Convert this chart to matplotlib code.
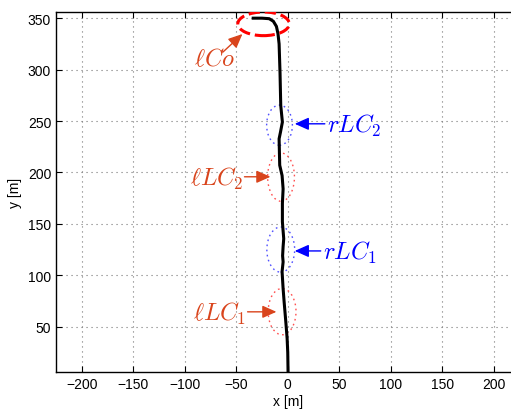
import matplotlib
matplotlib.use('Agg')
import matplotlib.pyplot as plt
from matplotlib.patches import Ellipse

plt.rcParams['font.family'] = ['Liberation Sans', 'DejaVu Sans']
plt.rcParams['mathtext.fontset'] = 'cm'

# trajectory of the vehicle [m]
path_x = [0.3, 0.0, -0.6, -1.9, -3.5, -4.5, -5.5, -4.5, -5.0, -4.5, -3.9, -4.5,
          -5.2, -5.2, -4.5, -5.5, -7.8, -8.4, -7.1, -5.2, -6.8, -7.5, -8.4,
          -9.5, -11.0, -14.0, -18.0, -25.0, -35.0]
path_y = [6, 25, 38.5, 55, 74, 87, 103.5, 113, 119, 128, 135.6, 143,
          152, 170, 184, 197, 207, 232.7, 239, 249, 265, 297, 325,
          335, 342, 347, 349.5, 350, 350]

# manoeuvre regions: centre x, centre y, width, height
lc_names = ['lLC1', 'rLC1', 'lLC2', 'rLC2']
lc_cx = [-5.5, -6.8, -6.5, -8.0]
lc_cy = [64.7, 125.0, 195.5, 246.0]
lc_w = [27, 27, 26, 25]
lc_h = [45, 44, 47, 39]
lc_col = ['#ff5050', '#5050ff', '#ff5050', '#5050ff']

co_cx, co_cy, co_w, co_h = -23.5, 344.5, 50, 23

# labels: text, text anchor, arrow tail, arrow tip, colour
labels = [r'$\ell Co$', r'$\ell LC_2$', r'$rLC_2$', r'$\ell LC_1$', r'$rLC_1$']
lab_x = [-51, -43, 38, -40, 34]
lab_y = [311, 195, 246, 63.5, 122.5]
tail_x = [-63, -42, 36, -39, 32]
tail_y = [317, 195.8, 247.3, 64.5, 123.7]
tip_x = [-44, -16.8, 6.8, -11, 6.8]
tip_y = [334.6, 195.8, 247.3, 64.5, 123.7]
lab_col = ['#d9441c', '#d9441c', '#0000ff', '#d9441c', '#0000ff']

fig = plt.figure(figsize=(5.11, 4.14), dpi=100)
ax = fig.add_axes([56 / 511, 41 / 414, 463.5 / 511, 360 / 414])

ax.plot(path_x, path_y, color='k', lw=2.2, solid_capstyle='butt', zorder=3)

for cx, cy, w, h, c in zip(lc_cx, lc_cy, lc_w, lc_h, lc_col):
    ax.add_patch(Ellipse((cx, cy), w, h, fill=False, lw=1.0, ec=c, zorder=2,
                         ls=(0, (1.2, 2.5))))
ax.add_patch(Ellipse((co_cx, co_cy), co_w, co_h, fill=False, ls='--', lw=2.2,
                     ec='#ff0000', zorder=4))

for i, txt in enumerate(labels):
    ha = 'right' if txt.startswith(r'$\ell') else 'left'
    ax.text(lab_x[i], lab_y[i], txt, color=lab_col[i], fontsize=17.5,
            ha=ha, va='center', zorder=5)
    ax.annotate('', xy=(tip_x[i], tip_y[i]), xytext=(tail_x[i], tail_y[i]),
                arrowprops=dict(arrowstyle='-|>,head_length=0.85,head_width=0.38',
                                color=lab_col[i], lw=1.0, shrinkA=0, shrinkB=0),
                zorder=5)

ax.set_xlim(-225, 225)
ax.set_ylim(6, 356)
ax.set_xticks(range(-200, 201, 50))
ax.set_yticks(range(50, 351, 50))
ax.grid(True, ls=(0, (1, 3.5)), color='#777777', lw=0.8)
ax.tick_params(direction='in', top=True, right=True, labelsize=10, length=4)
for s in ax.spines.values():
    s.set_linewidth(1.0)
ax.set_xlabel('x [m]', fontsize=10, labelpad=2)
ax.set_ylabel('y [m]', fontsize=10, labelpad=4)

fig.savefig('out.png', dpi=100)
